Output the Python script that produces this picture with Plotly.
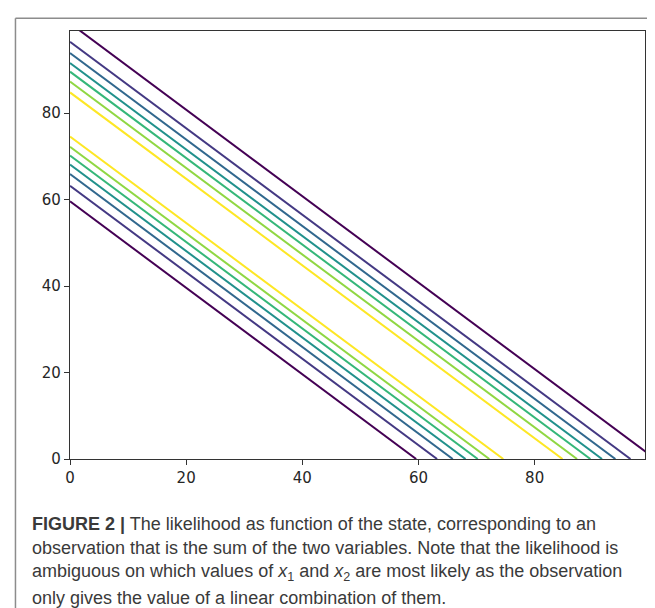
import plotly.graph_objects as go

# Contour levels: each line is x1 + x2 = level
level_sums = [59.6, 63.2, 65.9, 68.1, 70.2, 72.2, 74.6,
              84.8, 87.3, 89.6, 91.6, 93.9, 96.5, 100.8]
# colour index (0 = outermost/lowest likelihood, 6 = innermost/highest)
level_rank = [0, 1, 2, 3, 4, 5, 6, 6, 5, 4, 3, 2, 1, 0]
viridis7 = ["#440154", "#443983", "#31688e", "#21918c", "#35b779", "#90d743", "#fde725"]

tick_vals = [0, 20, 40, 60, 80]
axis_max = 99

caption_lines = [
    "<b>FIGURE 2 |</b> The likelihood as function of the state, corresponding to an",
    "observation that is the sum of the two variables. Note that the likelihood is",
    "ambiguous on which values of <i>x</i><sub>1</sub> and <i>x</i><sub>2</sub> are most likely as the observation",
    "only gives the value of a linear combination of them.",
]
caption_y_px = [516, 540, 565, 590]

W, H = 655, 608
L, R, T, B = 62, 636.7, 22.7, 451

fig = go.Figure()
for s, r in zip(level_sums, level_rank):
    fig.add_trace(go.Scatter(x=[0, s], y=[s, 0], mode="lines",
                             line=dict(color=viridis7[r], width=2),
                             hoverinfo="skip", showlegend=False))

axis_common = dict(range=[0, axis_max], tickvals=tick_vals, showgrid=False, zeroline=False,
                   showline=True, mirror=True, linecolor="#333333", linewidth=1.3,
                   ticks="outside", ticklen=5, tickwidth=1.2, tickcolor="#333333",
                   tickfont=dict(family="DejaVu Sans", size=15, color="#262626"))
fig.update_xaxes(**axis_common)
fig.update_yaxes(**axis_common)

for txt, py in zip(caption_lines, caption_y_px):
    fig.add_annotation(text=txt, xref="paper", yref="paper",
                       x=(22 - L) / (R - L), y=(B - py) / (B - T),
                       xanchor="left", yanchor="middle", showarrow=False,
                       font=dict(family="Liberation Sans", size=18, color="#3a3a3a"))

# outer frame (left and top edges)
fig.add_shape(type="line", xref="paper", yref="paper",
              x0=(7.5 - L) / (R - L), x1=(7.5 - L) / (R - L),
              y0=(B - 610) / (B - T), y1=(B - 10) / (B - T),
              line=dict(color="#8c8c8c", width=1.5))
fig.add_shape(type="line", xref="paper", yref="paper",
              x0=(7.5 - L) / (R - L), x1=(660 - L) / (R - L),
              y0=(B - 10) / (B - T), y1=(B - 10) / (B - T),
              line=dict(color="#8c8c8c", width=1.5))

fig.update_layout(width=W, height=H, autosize=False,
                  margin=dict(l=L, r=W - R, t=T, b=H - B, pad=0),
                  plot_bgcolor="white", paper_bgcolor="white")
fig.write_html("out.html")
